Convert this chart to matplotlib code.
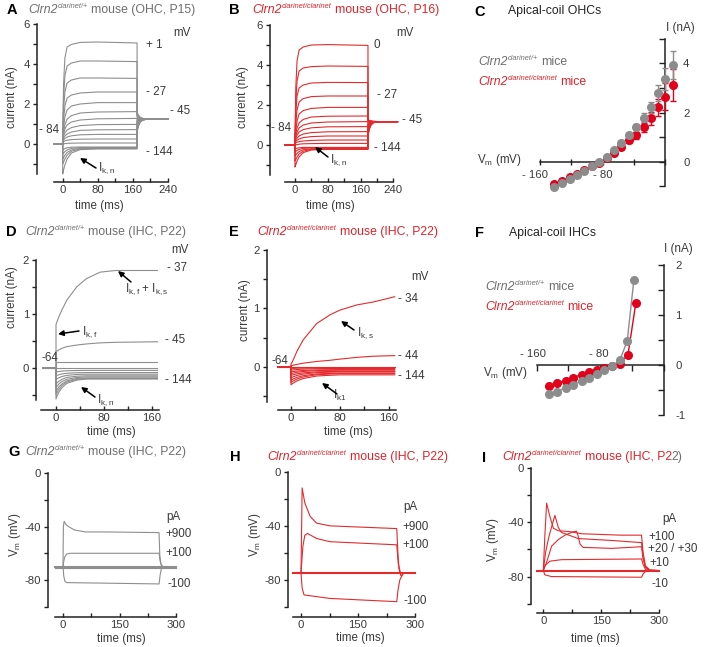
import matplotlib
matplotlib.use('Agg')
import matplotlib.pyplot as plt

plt.rcParams['font.family'] = ['Liberation Sans', 'DejaVu Sans']
plt.rcParams['mathtext.fontset'] = 'custom'
plt.rcParams['mathtext.rm'] = 'Liberation Sans'
plt.rcParams['mathtext.it'] = 'Liberation Sans:italic'
plt.rcParams['mathtext.bf'] = 'Liberation Sans:bold'

W, H = 704, 647
GRAY = '#8e8e8e'
RED = '#e42a2d'
TGRAY = '#6e6e6e'
TRED = '#e0232a'
TXT = '#3a3a3a'
TICK = 8.2

# ---------------- data ----------------
# A : OHC, Clrn2 clarinet/+ (nA), step traces at shared times (ms)
A_t = [0, 2, 5, 10, 20, 40, 80, 170]
A_I = [
    [0.3, 3.0, 4.3, 4.85, 4.98, 5.08, 5.10, 5.05],
    [0.3, 2.3, 3.4, 3.9, 4.05, 4.15, 4.15, 4.12],
    [0.3, 1.7, 2.6, 3.05, 3.2, 3.3, 3.3, 3.28],
    [0.3, 1.2, 1.9, 2.3, 2.45, 2.55, 2.6, 2.6],
    [0.3, 0.8, 1.35, 1.7, 1.9, 2.0, 2.07, 2.07],
    [0.3, 0.6, 0.95, 1.25, 1.42, 1.55, 1.6, 1.62],
    [0.3, 0.5, 0.75, 0.95, 1.1, 1.2, 1.26, 1.28],
    [0.25, 0.4, 0.55, 0.7, 0.82, 0.92, 0.97, 0.98],
    [0.2, 0.3, 0.4, 0.5, 0.6, 0.68, 0.71, 0.72],
    [0.15, 0.2, 0.28, 0.35, 0.41, 0.46, 0.48, 0.48],
    [0.1, 0.12, 0.16, 0.19, 0.22, 0.24, 0.25, 0.25],
    [0.0, 0.01, 0.02, 0.03, 0.04, 0.05, 0.05, 0.05],
    [-0.3, -0.27, -0.23, -0.19, -0.16, -0.15, -0.15, -0.15],
    [-0.5, -0.45, -0.38, -0.3, -0.22, -0.18, -0.18, -0.18],
    [-0.75, -0.68, -0.56, -0.42, -0.3, -0.21, -0.2, -0.2],
    [-1.0, -0.9, -0.75, -0.56, -0.36, -0.24, -0.22, -0.22],
    [-1.5, -1.3, -1.05, -0.75, -0.45, -0.28, -0.25, -0.25],
]
A_tail_t = [170, 173, 177, 183, 195, 240]
A_tail = [
    [1.6, 1.44, 1.34, 1.28, 1.25, 1.25],
    [1.55, 1.415, 1.325, 1.275, 1.25, 1.25],
    [1.5, 1.39, 1.31, 1.27, 1.25, 1.25],
    [1.45, 1.36, 1.3, 1.265, 1.25, 1.25],
    [1.4, 1.33, 1.29, 1.26, 1.25, 1.25],
    [1.35, 1.3, 1.275, 1.26, 1.25, 1.25],
    [1.3, 1.28, 1.26, 1.255, 1.25, 1.25],
    [1.25, 1.25, 1.25, 1.25, 1.25, 1.25],
    [1.2, 1.22, 1.24, 1.245, 1.25, 1.25],
    [1.1, 1.17, 1.21, 1.24, 1.25, 1.25],
    [1.0, 1.11, 1.19, 1.23, 1.25, 1.25],
    [0.9, 1.06, 1.16, 1.22, 1.25, 1.25],
    [0.8, 1.0, 1.14, 1.21, 1.25, 1.25],
    [0.75, 0.97, 1.13, 1.21, 1.25, 1.25],
    [0.7, 0.95, 1.11, 1.2, 1.25, 1.25],
    [0.65, 0.92, 1.1, 1.2, 1.25, 1.25],
    [0.6, 0.89, 1.09, 1.2, 1.25, 1.25],
]

# B : OHC, Clrn2 clarinet/clarinet
B_t = [0, 2, 5, 10, 20, 40, 80, 178]
B_I = [
    [0.3, 2.9, 4.2, 4.75, 4.9, 5.0, 5.02, 4.98],
    [0.3, 2.2, 3.2, 3.7, 3.85, 3.92, 3.95, 3.93],
    [0.3, 1.6, 2.45, 2.85, 3.0, 3.1, 3.13, 3.12],
    [0.3, 1.1, 1.75, 2.15, 2.32, 2.42, 2.45, 2.45],
    [0.3, 0.75, 1.2, 1.55, 1.72, 1.83, 1.88, 1.88],
    [0.3, 0.55, 0.85, 1.1, 1.28, 1.4, 1.44, 1.45],
    [0.3, 0.45, 0.65, 0.85, 1.0, 1.1, 1.15, 1.17],
    [0.25, 0.35, 0.5, 0.65, 0.77, 0.86, 0.91, 0.92],
    [0.2, 0.26, 0.35, 0.45, 0.55, 0.62, 0.66, 0.67],
    [0.15, 0.18, 0.24, 0.3, 0.37, 0.42, 0.45, 0.45],
    [0.1, 0.11, 0.14, 0.17, 0.2, 0.23, 0.25, 0.25],
    [0.0, 0.01, 0.02, 0.04, 0.06, 0.07, 0.08, 0.08],
    [-0.2, -0.18, -0.16, -0.14, -0.12, -0.12, -0.12, -0.12],
    [-0.35, -0.32, -0.27, -0.22, -0.17, -0.15, -0.15, -0.15],
    [-0.55, -0.5, -0.42, -0.33, -0.24, -0.19, -0.18, -0.18],
    [-0.8, -0.72, -0.6, -0.45, -0.31, -0.22, -0.2, -0.2],
    [-1.1, -0.98, -0.8, -0.6, -0.38, -0.25, -0.22, -0.22],
]
B_tail_t = [178, 181, 185, 191, 205, 250]
B_tail = [
    [1.3, 1.23, 1.2, 1.18, 1.17, 1.17],
    [1.28, 1.22, 1.195, 1.18, 1.17, 1.17],
    [1.26, 1.21, 1.19, 1.175, 1.17, 1.17],
    [1.24, 1.2, 1.185, 1.175, 1.17, 1.17],
    [1.22, 1.19, 1.18, 1.17, 1.17, 1.17],
    [1.2, 1.185, 1.175, 1.17, 1.17, 1.17],
    [1.18, 1.175, 1.17, 1.17, 1.17, 1.17],
    [1.15, 1.16, 1.165, 1.17, 1.17, 1.17],
    [1.1, 1.13, 1.15, 1.165, 1.17, 1.17],
    [1.0, 1.08, 1.13, 1.16, 1.17, 1.17],
    [0.9, 1.02, 1.1, 1.15, 1.17, 1.17],
    [0.8, 0.97, 1.08, 1.14, 1.17, 1.17],
    [0.7, 0.91, 1.05, 1.13, 1.17, 1.17],
    [0.62, 0.87, 1.03, 1.13, 1.17, 1.17],
    [0.55, 0.83, 1.02, 1.12, 1.17, 1.17],
    [0.48, 0.79, 1.0, 1.12, 1.17, 1.17],
    [0.42, 0.76, 0.98, 1.11, 1.17, 1.17],
]

# C : I-V of apical OHCs
C_vm_wt = [-142.9, -132.2, -122.4, -113.0, -103.6, -93.8, -84.4, -74.5, -65.1,
           -56.2, -45.9, -36.9, -27.5, -18.1, -9.1, 0.3, 9.7]
C_i_wt = [-1.02, -0.85, -0.70, -0.54, -0.37, -0.18, -0.03, 0.18, 0.47,
          0.75, 1.08, 1.42, 1.79, 2.21, 2.78, 3.36, 3.93]
C_err_wt = [0.05, 0.05, 0.04, 0.04, 0.04, 0.03, 0.03, 0.04, 0.06,
            0.08, 0.10, 0.13, 0.18, 0.23, 0.33, 0.43, 0.58]
C_vm_mut = C_vm_wt
C_i_mut = [-0.91, -0.77, -0.64, -0.50, -0.34, -0.18, -0.04, 0.14, 0.37,
           0.61, 0.88, 1.08, 1.40, 1.76, 2.21, 2.64, 3.12]
C_err_mut = [0.05, 0.05, 0.04, 0.04, 0.04, 0.03, 0.03, 0.04, 0.06,
             0.08, 0.10, 0.14, 0.18, 0.25, 0.34, 0.54, 0.64]

# D : IHC, Clrn2 clarinet/+
D_t = [0, 2, 5, 10, 18, 35, 51, 74, 100, 170]
D_I = [
    [0.8, 0.86, 0.95, 1.07, 1.25, 1.5, 1.65, 1.77, 1.8, 1.8],
    [0.3, 0.31, 0.33, 0.36, 0.39, 0.42, 0.44, 0.46, 0.47, 0.48],
    [0.1, 0.1, 0.1, 0.1, 0.1, 0.1, 0.1, 0.1, 0.1, 0.1],
    [0.0, 0.0, 0.0, 0.0, 0.0, 0.0, 0.0, 0.0, 0.0, 0.0],
    [-0.08, -0.075, -0.07, -0.063, -0.057, -0.052, -0.05, -0.05, -0.05, -0.05],
    [-0.15, -0.14, -0.13, -0.116, -0.103, -0.093, -0.09, -0.09, -0.09, -0.09],
    [-0.22, -0.205, -0.186, -0.163, -0.142, -0.125, -0.12, -0.12, -0.12, -0.12],
    [-0.3, -0.28, -0.25, -0.215, -0.18, -0.157, -0.15, -0.15, -0.15, -0.15],
    [-0.37, -0.34, -0.3, -0.255, -0.215, -0.18, -0.17, -0.17, -0.17, -0.17],
    [-0.44, -0.4, -0.355, -0.3, -0.245, -0.2, -0.19, -0.19, -0.19, -0.19],
    [-0.5, -0.455, -0.4, -0.33, -0.265, -0.215, -0.2, -0.2, -0.2, -0.2],
    [-0.58, -0.52, -0.45, -0.37, -0.29, -0.23, -0.21, -0.21, -0.21, -0.21],
]

# E : IHC, Clrn2 clarinet/clarinet
E_t = [0, 2, 5, 10, 20, 42, 64, 80, 108, 135, 170]
E_I = [
    [0.05, 0.08, 0.15, 0.27, 0.46, 0.74, 0.89, 0.97, 1.06, 1.11, 1.2],
    [0.02, 0.02, 0.03, 0.04, 0.06, 0.09, 0.11, 0.13, 0.16, 0.18, 0.19],
    [0.0, 0.0, 0.0, 0.0, 0.0, 0.0, 0.0, 0.0, 0.0, 0.0, 0.0],
    [-0.03, -0.029, -0.028, -0.026, -0.024, -0.021, -0.02, -0.02, -0.02, -0.02, -0.02],
    [-0.06, -0.057, -0.053, -0.048, -0.041, -0.034, -0.031, -0.03, -0.03, -0.03, -0.03],
    [-0.09, -0.086, -0.081, -0.074, -0.065, -0.055, -0.052, -0.05, -0.05, -0.05, -0.05],
    [-0.12, -0.114, -0.107, -0.096, -0.082, -0.067, -0.062, -0.06, -0.06, -0.06, -0.06],
    [-0.15, -0.143, -0.135, -0.122, -0.106, -0.088, -0.083, -0.08, -0.08, -0.08, -0.08],
    [-0.19, -0.18, -0.168, -0.15, -0.127, -0.102, -0.094, -0.09, -0.09, -0.09, -0.09],
    [-0.23, -0.218, -0.204, -0.182, -0.154, -0.124, -0.115, -0.11, -0.11, -0.11, -0.11],
    [-0.27, -0.255, -0.237, -0.21, -0.176, -0.138, -0.126, -0.12, -0.12, -0.12, -0.12],
    [-0.31, -0.293, -0.273, -0.242, -0.203, -0.16, -0.147, -0.14, -0.14, -0.14, -0.14],
]

# F : I-V of apical IHCs
F_vm_wt = [-144.1, -134.1, -123.6, -114.0, -103.5, -93.9, -84.7, -75.1, -65.0, -55.4, -46.2, -37.8]
F_i_wt = [-0.57, -0.53, -0.45, -0.39, -0.32, -0.25, -0.17, -0.09, -0.02, 0.10, 0.48, 1.71]
F_vm_mut = [-144.1, -134.1, -123.6, -114.0, -103.5, -93.9, -84.7, -75.1, -65.0, -55.4, -45.2, -35.3]
F_i_mut = [-0.41, -0.36, -0.31, -0.25, -0.19, -0.14, -0.10, -0.05, -0.02, 0.03, 0.21, 1.25]

# G : current clamp, clarinet/+ (mV)
G_hold = ([-20, 300], [-70, -70])
G_zero = ([-20, 300], [-71.3, -71.3])
G_p900 = ([-20, 0, 1, 3, 8, 15, 30, 60, 120, 255, 257, 260, 265, 300],
          [-70, -70, -40, -36, -38.5, -40, -42.5, -44, -44, -44.5, -62, -68, -70, -70])
G_p100 = ([-20, 0, 2, 5, 10, 20, 255, 258, 262, 300],
          [-70, -70, -66, -62.5, -60.5, -60, -60, -66, -70, -70])
G_m100 = ([-20, 0, 2, 5, 10, 255, 258, 262, 300],
          [-70, -70, -77, -81, -82, -83, -76, -70.5, -70])

# H : current clamp, clarinet/clarinet
H_hold = ([-20, 300], [-74.6, -74.6])
H_p900 = ([-20, 0, 3, 10, 24, 41, 76, 252, 255, 258, 263, 270, 300],
          [-74.6, -74.6, -12, -23, -33, -38, -40, -42, -60, -72, -77, -75, -74.6])
H_p100 = ([-20, 0, 5, 10, 17, 41, 76, 252, 256, 262, 300],
          [-74.6, -74.6, -55, -47, -45.6, -49.3, -51.7, -54, -68, -75, -74.6])
H_m100 = ([-20, 0, 3, 8, 76, 252, 255, 260, 269, 300],
          [-74.6, -74.6, -86, -91, -93.6, -96, -88, -80, -75, -74.6])

# I : current clamp, clarinet/clarinet, small injections
I_hold = ([-15, 300], [-75.5, -75.5])
I_p100 = ([-15, 0, 4, 8.6, 17, 26, 39, 65, 100, 150, 200, 254, 258, 264, 275, 300],
          [-75.5, -75.5, -50, -26, -35.8, -44.4, -46.3, -46.8, -48.5, -49, -49.5, -49.5, -62, -72, -75, -75.5])
I_p30 = ([-15, 0, 6, 15, 24, 30, 39, 47, 90, 177, 254, 258, 264, 275, 300],
         [-75.5, -75.5, -62, -50, -41, -35, -44, -47.5, -52, -53.4, -55, -65, -73, -75.5, -75.5])
I_p20 = ([-15, 0, 9, 21.5, 39, 56, 77.5, 86, 90, 95, 103, 177, 254, 258, 264, 275, 300],
         [-75.5, -75.5, -69, -57.6, -52.7, -49.5, -47, -46.6, -50, -56.1, -58.5, -59.2, -58, -67, -73, -75.5, -75.5])
I_p10 = ([-15, 0, 4, 17, 47, 254, 258, 265, 300],
         [-75.5, -75.5, -72, -68.6, -67.5, -67, -71, -75, -75.5])
I_m10 = ([-15, 0, 4, 21, 254, 258, 265, 300],
         [-75.5, -75.5, -78.6, -79.9, -80.4, -78, -76, -75.5])

# ---------------- layout helpers ----------------
fig = plt.figure(figsize=(W / 100, H / 100), dpi=100)


def px_axes(x_left, x_right, x0px, xs, y_bot, y_top, y0px, ys):
    """axes whose left/bottom edges sit at given pixels; x0px/y0px = pixel of value 0"""
    xl = ((x_left - x0px) / xs, (x_right - x0px) / xs)
    yl = ((y0px - y_bot) / ys, (y0px - y_top) / ys)
    ax = fig.add_axes([x_left / W, 1 - y_bot / H, (x_right - x_left) / W, (y_bot - y_top) / H])
    ax.set_xlim(xl)
    ax.set_ylim(yl)
    ax.patch.set_alpha(0)
    return ax


def trace_style(ax, ybounds, yticks, ylabels, xbounds, xticks, xlabels):
    for s in ['top', 'right']:
        ax.spines[s].set_visible(False)
    for s in ['left', 'bottom']:
        ax.spines[s].set_linewidth(1.1)
        ax.spines[s].set_color('#222222')
    ax.spines['left'].set_bounds(*ybounds)
    ax.spines['bottom'].set_bounds(*xbounds)
    ax.set_yticks(yticks, ylabels)
    ax.set_xticks(xticks, xlabels)
    ax.tick_params(axis='y', direction='out', length=3, width=1, color='#222222',
                   labelsize=TICK, labelcolor=TXT, pad=2)
    ax.tick_params(axis='x', direction='in', length=3, width=1, color='#222222',
                   labelsize=TICK, labelcolor=TXT, pad=2.5)


def step_traces(ax, t, rows, color, hold, tail_t=None, tails=None):
    for k, row in enumerate(rows):
        tt = [hold[0], 0] + list(t)
        vv = [hold[1], hold[1]] + list(row)
        if tails is not None:
            tt += list(tail_t)
            vv += list(tails[k])
        ax.plot(tt, vv, color=color, lw=0.8, solid_joinstyle='round')


# ---------------- panel A ----------------
axA = px_axes(37, 178, 62.7, 0.4375, 182, 18, 144, 20)
step_traces(axA, A_t, A_I, GRAY, (-20, 0.0), A_tail_t, A_tail)
axA.plot([-20, 0], [0, 0], color=GRAY, lw=1.4)
trace_style(axA, (-1.5, 6), [-1, 0, 1, 2, 3, 4, 5, 6], ['', '0', '', '2', '', '4', '', '6'],
            (-20, 240), [0, 40, 80, 120, 160, 200, 240], ['0', '', '80', '', '160', '', '240'])

# ---------------- panel B ----------------
axB = px_axes(270, 405, 295, 0.41, 182, 18, 145, 20)
step_traces(axB, B_t, B_I, RED, (-24, 0.0), B_tail_t, B_tail)
axB.plot([-24, 0], [0, 0], color=RED, lw=1.4)
trace_style(axB, (-1.5, 6), [-1, 0, 1, 2, 3, 4, 5, 6], ['', '0', '', '2', '', '4', '', '6'],
            (-24, 240), [0, 40, 80, 120, 160, 200, 240], ['0', '', '80', '', '160', '', '240'])

# ---------------- panel D ----------------
axD = px_axes(36, 165, 56, 0.597, 410, 250, 367.7, 54)
step_traces(axD, D_t, D_I, GRAY, (-22, 0.0))
axD.plot([-22, 0], [0, 0], color=GRAY, lw=1.4)
trace_style(axD, (-0.6, 2), [-0.5, 0, 0.5, 1, 1.5, 2], ['', '0', '', '1', '', '2'],
            (-25, 172), [0, 40, 80, 120, 160], ['0', '', '80', '', '160'])

# ---------------- panel E ----------------
axE = px_axes(266.7, 400, 291, 0.61, 410, 240, 366.7, 58.3)
step_traces(axE, E_t, E_I, RED, (-21, 0.0))
axE.plot([-21, 0], [0, 0], color=RED, lw=1.4)
trace_style(axE, (-0.6, 2), [-0.5, 0, 0.5, 1, 1.5, 2], ['', '0', '', '1', '', '2'],
            (-21, 172), [0, 40, 80, 120, 160], ['0', '', '80', '', '160'])

# ---------------- panels G, H, I ----------------
axG = px_axes(48.3, 182, 63, 0.3767, 616.7, 460, 473.3, 1.333)
for tr in [G_zero, G_p900, G_p100, G_m100]:
    axG.plot(tr[0], tr[1], color=GRAY, lw=0.8)
axG.plot(G_hold[0], G_hold[1], color=GRAY, lw=1.5)

axH = px_axes(288.3, 420, 301, 0.38, 616.7, 460, 471.7, 1.354)
for tr in [H_p900, H_p100, H_m100]:
    axH.plot(tr[0], tr[1], color=RED, lw=0.8)
axH.plot(H_hold[0], H_hold[1], color=RED, lw=1.5)

axI = px_axes(531, 664, 543.3, 0.3867, 612.7, 455, 467.7, 1.3625)
for tr in [I_p100, I_p30, I_p20, I_p10, I_m10]:
    axI.plot(tr[0], tr[1], color=RED, lw=0.8)
axI.plot(I_hold[0], I_hold[1], color=RED, lw=1.5)

for ax, xb in [(axG, (-20, 300)), (axH, (-20, 300)), (axI, (-17, 300))]:
    trace_style(ax, (-100, 0), [-100, -80, -60, -40, -20, 0], ['', '-80', '', '-40', '', '0'],
                xb, [0, 75, 150, 225, 300], ['0', '', '150', '', '300'])

# ---------------- panel C ----------------
axC = px_axes(524.6, 680, 665, 0.78, 194, 34, 161.7, 24.6)
axC.errorbar(C_vm_mut, C_i_mut, yerr=C_err_mut, fmt='o', ms=5.5, color='#e3001b',
             ecolor='#e3001b', elinewidth=1, capsize=2.3, capthick=1, zorder=3)
axC.errorbar(C_vm_wt, C_i_wt, yerr=C_err_wt, fmt='o', ms=5.5, color='#8c8c8c',
             ecolor='#8c8c8c', elinewidth=1, capsize=2.3, capthick=1, zorder=4)

# ---------------- panel F ----------------
axF = px_axes(520.7, 680, 664, 0.796, 420, 258, 365, 50)
axF.plot(F_vm_wt, F_i_wt, '-o', color='#8c8c8c', ms=5.5, lw=1, zorder=4)
axF.plot(F_vm_mut, F_i_mut, '-o', color='#e3001b', ms=5.5, lw=1, zorder=3)

for ax, yt, yl, pad, xdir in [
        (axC, [-1, 0, 1, 2, 3, 4, 5], ['', '0', '', '2', '', '4', ''], 13, 'inout'),
        (axF, [-1, -0.5, 0, 0.5, 1, 1.5, 2], ['-1', '', '0', '', '1', '', '2'], 8, 'out')]:
    for s in ['top', 'left']:
        ax.spines[s].set_visible(False)
    ax.spines['right'].set_position(('data', 0))
    ax.spines['bottom'].set_position(('data', 0))
    ax.spines['right'].set_bounds(yt[0], yt[-1])
    ax.spines['bottom'].set_bounds(-160, 0)
    for s in ['right', 'bottom']:
        ax.spines[s].set_linewidth(1.1)
        ax.spines[s].set_color('#222222')
    ax.yaxis.tick_right()
    ax.set_yticks(yt, yl)
    ax.set_xticks([-160, -120, -80, -40, 0], [''] * 5)
    ax.tick_params(axis='y', direction='in', length=4, width=1, color='#222222',
                   labelsize=TICK, labelcolor=TXT, pad=pad)
    ax.tick_params(axis='x', direction=xdir, length=5 if xdir == 'inout' else 4,
                   width=1, color='#222222')

# ---------------- text overlay (pixel coordinates) ----------------
ov = fig.add_axes([0, 0, 1, 1], zorder=10)
ov.set_xlim(0, W)
ov.set_ylim(H, 0)
ov.axis('off')
rend = fig.canvas.get_renderer()


def txt(x, y, s, size=8, color=TXT, ha='left', **kw):
    return ov.text(x, y, s, fontsize=size, color=color, ha=ha, va='center', **kw)


def width(t):
    return t.get_window_extent(rend).width


def genotype(x, y, sup, rest, color, size=8.8, sup_size=5.3):
    """italic Clrn2 with a small raised allele name, then plain text"""
    t1 = txt(x, y, 'Clrn2', size, color, style='italic')
    x2 = x + width(t1) + 0.4
    t2 = txt(x2, y - 3.3, sup, sup_size, color, style='italic')
    x3 = x2 + width(t2) + 3
    t3 = txt(x3, y, rest, size, color)
    return x3 + width(t3)


def arrow(head, tail):
    ov.annotate('', xy=head, xytext=tail,
                arrowprops=dict(arrowstyle='-|>', color='k', lw=1.1,
                                mutation_scale=8, shrinkA=0, shrinkB=0))


# panel letters
for x, y, s in [(12, 10, 'A'), (234, 10, 'B'), (480, 12, 'C'), (11, 232, 'D'),
                (234, 232, 'E'), (479, 233, 'F'), (14, 452, 'G'), (235, 457, 'H'),
                (484, 458, 'I')]:
    txt(x, y, s, size=10.5, color='k', ha='center', weight='bold')

# titles
genotype(28, 10, 'clarinet/+', 'mouse (OHC, P15)', TGRAY)
genotype(252, 10, 'clarinet/clarinet', 'mouse (OHC, P16)', TRED)
txt(508, 11, 'Apical-coil OHCs', 8.8, '#222222')
genotype(25, 232, 'clarinet/+', 'mouse (IHC, P22)', TGRAY)
genotype(257, 232, 'clarinet/clarinet', 'mouse (IHC, P22)', TRED)
txt(509, 233, 'Apical-coil IHCs', 8.8, '#222222')
genotype(25, 452, 'clarinet/+', 'mouse (IHC, P22)', TGRAY)
genotype(267, 457, 'clarinet/clarinet', 'mouse (IHC, P22)', TRED)
x_end = genotype(502, 457, 'clarinet/clarinet', 'mouse (IHC, P2', TRED)
txt(x_end - 0.5, 457, '2)', 8.8, TGRAY)

# axis labels
for x, y, s in [(12, 97, 'current (nA)'), (243, 97, 'current (nA)'),
                (12, 297, 'current (nA)'), (245, 310, 'current (nA)'),
                (15, 535, r'V$_\mathrm{m}$ (mV)'), (255, 535, r'V$_\mathrm{m}$ (mV)'),
                (493, 540, r'V$_\mathrm{m}$ (mV)')]:
    txt(x, y, s, 8.4, TXT, ha='center', rotation=90)
for x, y in [(99.5, 206), (330, 206), (111.7, 432), (348, 432),
             (121.7, 639), (360, 638), (595, 639)]:
    txt(x, y, 'time (ms)', 8.4, TXT, ha='center')

# panel A annotations
txt(173, 33, 'mV', 8.4)
txt(146, 45, '+ 1', 8.4)
txt(146, 92, '- 27', 8.4)
txt(170, 111, '- 45', 8.4)
txt(39, 130, '- 84', 8.4)
txt(146, 152, '- 144', 8.4)
txt(98, 168, r'I$_\mathrm{k,n}$', 8.4)
arrow((80, 158), (96, 168))

# panel B annotations
txt(405, 33, 'mV', 8.4, ha='center')
txt(373, 45, '0', 8.4)
txt(377, 95, '- 27', 8.4)
txt(402, 120, '- 45', 8.4)
txt(271, 128, '- 84', 8.4)
txt(374, 148, '- 144', 8.4)
txt(330, 160, r'I$_\mathrm{k,n}$', 8.4)
arrow((315, 147), (328, 157))

# panel C annotations
genotype(478, 62, 'clarinet/+', 'mice', TGRAY, size=8.8)
genotype(478, 82, 'clarinet/clarinet', 'mice', TRED, size=8.8)
txt(680, 28, 'I (nA)', 8.4, ha='center')
txt(477, 160, r'V$_\mathrm{m}$ (mV)', 8.4)
txt(535, 175, '- 160', TICK, ha='center')
txt(603, 175, '- 80', TICK, ha='center')

# panel D annotations
txt(180, 250, 'mV', 8.4, ha='center')
txt(167, 268, '- 37', 8.4)
txt(125, 289, r'I$_\mathrm{k,f}$ + I$_\mathrm{k,s}$', 8.4)
arrow((118, 271), (131, 282))
txt(82, 332, r'I$_\mathrm{k,f}$', 8.4)
arrow((58, 334), (79, 331))
txt(165, 340, '- 45', 8.4)
txt(42, 358, '-64', 8.4)
txt(165, 380, '- 144', 8.4)
txt(97, 400, r'I$_\mathrm{k,n}$', 8.4)
arrow((81, 387), (95, 397))

# panel E annotations
txt(420, 277, 'mV', 8.4, ha='center')
txt(398, 299, '- 34', 8.4)
txt(357, 333, r'I$_\mathrm{k,s}$', 8.4)
arrow((341, 321), (354, 330))
txt(398, 356, '- 44', 8.4)
txt(271, 361, '-64', 8.4)
txt(398, 376, '- 144', 8.4)
txt(333, 395, r'I$_\mathrm{k1}$', 8.4)
arrow((322, 383), (337, 394))

# panel F annotations
genotype(485, 287, 'clarinet/+', 'mice', TGRAY, size=8.8)
genotype(485, 307, 'clarinet/clarinet', 'mice', TRED, size=8.8)
txt(678, 249, 'I (nA)', 8.4, ha='center')
txt(483, 373, r'V$_\mathrm{m}$ (mV)', 8.4)
txt(533, 354, '- 160', TICK, ha='center')
txt(599, 354, '- 80', TICK, ha='center')

# panels G, H, I annotations
txt(173, 517, 'pA', 8.4, ha='center')
txt(165, 534, '+900', 8.4)
txt(165, 553, '+100', 8.4)
txt(167, 584, '-100', 8.4)
txt(403, 507, 'pA', 8.4)
txt(402, 527, '+900', 8.4)
txt(402, 545, '+100', 8.4)
txt(403, 601, '-100', 8.4)
txt(662, 519, 'pA', 8.4)
txt(648, 537, '+100', 8.4)
txt(648, 549, '+20 / +30', 8.4)
txt(649, 563, '+10', 8.4)
txt(651, 584, '-10', 8.4)

fig.savefig('out.png', dpi=100)
